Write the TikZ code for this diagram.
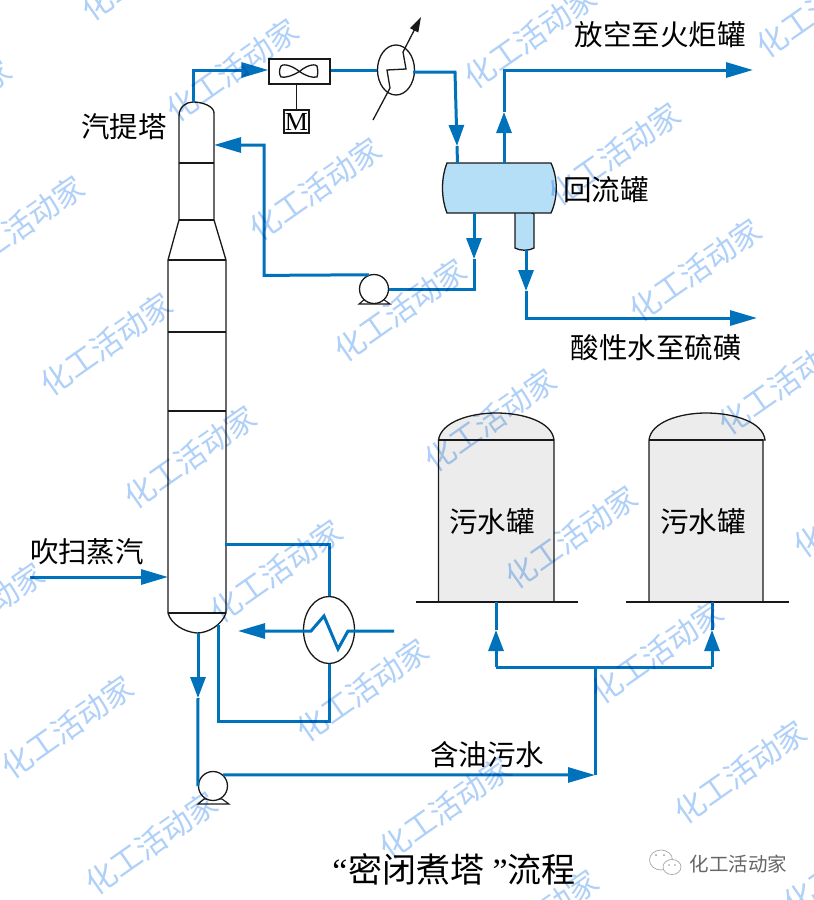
\documentclass[tikz,border=0pt]{standalone}
\usepackage{fontspec}
\setmainfont{Noto Sans CJK SC}
\newfontfamily\latinserif{Liberation Serif}
\usetikzlibrary{arrows.meta,shapes.geometric,calc}
\definecolor{pipeblue}{HTML}{0072BC}
\definecolor{drumblue}{HTML}{B5DFF7}
\definecolor{tankgray}{HTML}{ECECEC}
\definecolor{markblue}{HTML}{AFD0F8}
\tikzset{
  x=1pt,y=-1pt,
  pipe/.style={draw=pipeblue,line width=3pt,line join=miter},
  hpipe/.style={pipe,-{Triangle[length=21pt,width=15pt,fill=pipeblue]}},
  longpipe/.style={pipe,-{Triangle[length=27pt,width=15pt,fill=pipeblue]}},
  shell/.style={draw=black!90,line width=1.3pt},
  hx/.style={shell,ellipse,inner sep=0pt},
  pumpbody/.style={shell,circle,fill=white,inner sep=0pt,minimum size=29pt},
  foot/.style={fill=white,draw=black!90,line width=1.1pt},
  lab/.style={inner sep=0pt,text=black,font=\fontsize{28.5}{30}\selectfont},
  wmark/.style={inner sep=0pt,text=markblue,rotate=35,font=\fontsize{30.5}{32}\selectfont},
  chat/.style={draw=black!35,line width=.7pt,ellipse,inner sep=0pt},
}
\begin{document}
\begin{tikzpicture}
\useasboundingbox (0,0) rectangle (814,900);
\fill[white] (0,0) rectangle (814,900);
% equipment
\draw[shell,fill=white] (168,613) -- (168,260) -- (179,220) -- (179,116)
  .. controls (179,107) and (186,102) .. (193,102)
  .. controls (202,102) and (214,106) .. (214,113)
  -- (214,220) -- (226,260) -- (226,613)
  .. controls (222,625) and (208,633) .. (197,633)
  .. controls (184,632) and (171,624) .. (168,613) -- cycle;
\draw[shell] (179,163) -- (214,163);
\draw[shell] (179,220) -- (214,220);
\draw[shell] (168,260) -- (226,260);
\draw[shell] (168,332) -- (226,332);
\draw[shell] (168,411) -- (226,411);
\draw[shell] (168,613) -- (226,613);
\coordinate (towertop) at (193,102);
\coordinate (towerreflux) at (214,145);
\coordinate (towersteam) at (168,577);
\coordinate (towerdraw) at (225,544.5);
\coordinate (towerreturn) at (218,625);
\coordinate (towerbottom) at (198,633);
% boot and drum
\draw[shell,fill=drumblue] (515,212) -- (515,248) .. controls (520,251) and (529,251) .. (534,248) -- (534,214) .. controls (529,210) and (520,210) .. (515,212) -- cycle;
\draw[shell,fill=drumblue] (447,163) -- (551,163) .. controls (558,178) and (558,198) .. (551,213) -- (447,213) .. controls (441,198) and (441,178) .. (447,163) -- cycle;
\coordinate (drumin) at (457.5,163);
\coordinate (drumvap) at (504,163);
\coordinate (drumliq) at (474,213);
\coordinate (bootout) at (526,250);
% fan and motor
\node[shell,fill=white,minimum width=61pt,minimum height=25pt,inner sep=0pt] (fan) at (299.5,71.5) {};
\draw[shell] (299.5,71.5) .. controls (290,64) and (282,64) .. (281,66) .. controls (279,70) and (279,74) .. (281,77) .. controls (285,78) and (292,76) .. (299.5,71.5)
 .. controls (308,64) and (316,64) .. (317,66) .. controls (318,70) and (318,74) .. (317,77) .. controls (312,78) and (306,76) .. (299.5,71.5) -- cycle;
\node[shell,minimum width=25pt,minimum height=23pt,inner sep=0pt,font=\latinserif\fontsize{26}{26}\selectfont] (motor) at (296.5,121.5) {M};
\draw[shell] (motor.north) -- (motor.north |- fan.south);
% overhead condenser
\node[hx,minimum width=37pt,minimum height=50pt] (cond) at (396,70) {};
\coordinate (utilin) at (373,120);
\coordinate (utilout) at (421,17);
\draw[shell,-{Triangle[length=15pt,width=9pt]}] (utilin) -- (390,88) -- (387,70) -- (406,69) -- (403,52) -- (utilout);
% pumps
\fill[foot] (365,299) -- (359,304) -- (390,304) -- (383,299) -- cycle;
\node[pumpbody] (pumpa) at (374,289) {};
\fill[foot] (204,799) -- (198,804) -- (229,804) -- (222,799) -- cycle;
\node[pumpbody] (pumpb) at (213,786) {};
% reboiler
\node[hx,minimum width=51pt,minimum height=67pt] (reb) at (329,630) {};
% tanks
\draw[shell,fill=tankgray] (438.5,602) -- (438.5,440) .. controls (441,422) and (470,413) .. (496,413) .. controls (524,413) and (552,422) .. (554,440) -- (554,602);
\draw[shell] (438.5,440) -- (554,440);
\draw[shell] (416,602) -- (578,602);
\coordinate (tankain) at (496,602);
\draw[shell,fill=tankgray] (649,602) -- (649,440) .. controls (651,422) and (680,413) .. (706,413) .. controls (734,413) and (763,422) .. (765,440) -- (763,440) -- (763,602);
\draw[shell] (649,440) -- (763,440);
\draw[shell] (626,602) -- (789,602);
\coordinate (tankbin) at (712,602);
% pipes
\coordinate (p1) at (193,70);
\draw[longpipe] (towertop) -- (p1) -- (fan.west |- p1);
\draw[pipe] (fan.east |- p1) -- (cond.west |- p1);
\coordinate (p2) at (413,72);
\coordinate (p3) at (455,72);
\coordinate (p4) at (457,146);
\draw[hpipe] (p2) -- (p3) -- (p4);
\draw[pipe] (p4) -- (drumin);
% vapour
\coordinate (v1) at (504,112);
\coordinate (v2) at (504,70);
\coordinate (ventend) at (753,70);
\draw[hpipe] (drumvap) -- (v1);
\draw[longpipe] (v1) -- (v2) -- (ventend);
% reflux
\coordinate (r1) at (474,259);
\coordinate (r2) at (474,289);
\draw[hpipe] (drumliq) -- (r1);
\draw[pipe] (r1) -- (r2) -- (pumpa.east);
\coordinate (r3) at (264,275.4);
\coordinate (r4) at (264,145);
\draw[longpipe] (pumpa.110) -- (r3) -- (r4) -- (towerreflux);
% sour water
\coordinate (s1) at (526,291);
\coordinate (s2) at (526,318);
\coordinate (sourend) at (757,318);
\draw[hpipe] (bootout) -- (s1);
\draw[longpipe] (s1) -- (s2) -- (sourend);
% steam
\coordinate (steamin) at (30,577);
\draw[longpipe] (steamin) -- (towersteam);
% reboiler loop
\coordinate (b1) at (329,544.5);
\coordinate (b2) at (329,721);
\coordinate (b3) at (218,721);
\draw[pipe] (towerdraw) -- (b1) -- (reb.north);
\draw[pipe] (reb.south) -- (b2) -- (b3) -- (towerreturn);
% reboiler tube
\coordinate (t0) at (394,631);
\coordinate (t1) at (348,631);
\coordinate (t2) at (338,649);
\coordinate (t3) at (324,616);
\coordinate (t4) at (311,631);
\coordinate (t5) at (238,631);
\draw[longpipe] (t0) -- (t1) -- (t2) -- (t3) -- (t4) -- (t5);
% bottoms
\coordinate (c1) at (198,698);
\draw[hpipe] (towerbottom) -- (c1);
\draw[pipe] (c1) -- (pumpb.west);
\coordinate (c2) at (595,775);
\draw[longpipe] (pumpb.48) -- (c2);
\coordinate (c3) at (595,667);
\coordinate (c4) at (496,667);
\coordinate (c5) at (712,667);
\coordinate (c6) at (496,630);
\coordinate (c7) at (712,630);
\draw[pipe] (c2) -- (c3);
\draw[pipe] (c4) -- (c5);
\draw[hpipe] (c4) -- (c6);
\draw[pipe] (c6) -- (tankain);
\draw[hpipe] (c5) -- (c7);
\draw[pipe] (c7) -- (tankbin);
% labels
\node[lab] (l1) at (124,127) {汽提塔};
\node[lab] (l2) at (606,190) {回流罐};
\node[lab] (l3) at (660,35) {放空至火炬罐};
\node[lab] (l4) at (656,348) {酸性水至硫磺};
\node[lab] (l5) at (87,552) {吹扫蒸汽};
\node[lab] (l6) at (492,522) {污水罐};
\node[lab] (l7) at (703,522) {污水罐};
\node[lab] (l8) at (487,755) {含油污水};
\node[inner sep=0pt,font=\fontsize{34}{36}\selectfont] (title) at (454,869) {{\latinserif “}\hspace{1pt}密闭煮塔\hspace{8pt}{\latinserif ”}流程};
% watermarks
\begin{scope}[blend mode=multiply]
\foreach \mx/\my [count=\mi] in {
 232/70,315/189,400/310,490/420,571/537,657/652,740/772,
 530/37,614/154,695/270,784/383,859/506,
 106/344,190/457,276/571,362/690,445/808,532/921,
 18/227,-55/110,147/-31,822/6,
 -22/614,67/727,151/843,849/863}{
  \node[wmark] (wm\mi) at (\mx,\my) {化工活动家};
}
\end{scope}
% logo
\node[inner sep=0pt,text=black!60,font=\fontsize{19.5}{20}\selectfont] (logo) at (738.5,864) {化工活动家};
\node[chat,minimum width=23pt,minimum height=20pt] (chatbig) at (661,860) {};
\node[chat,fill=white,minimum width=18pt,minimum height=15pt] (chatsmall) at (672,867) {};
\fill[black!40] (656,855) circle (1pt) (664,855) circle (1pt) (669,865) circle (.9pt) (675,865) circle (.9pt);
\end{tikzpicture}
\end{document}
